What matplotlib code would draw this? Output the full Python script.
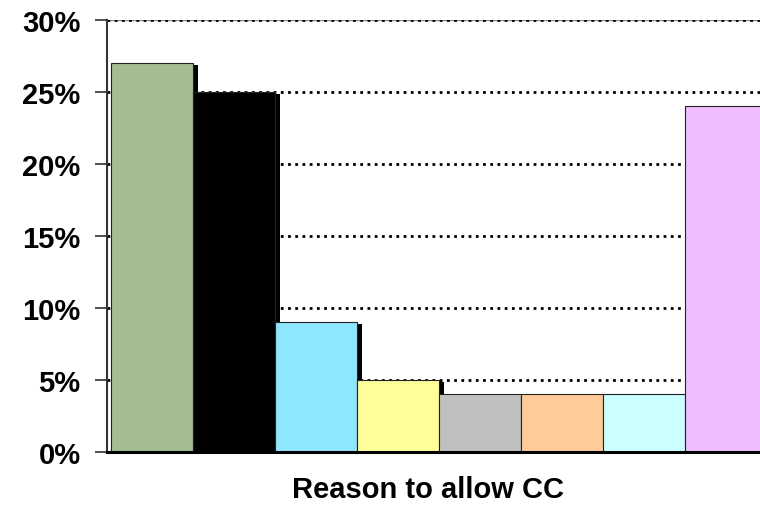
import matplotlib.pyplot as plt
import matplotlib.patheffects as pe
import numpy as np

plt.rcParams['font.family'] = ['Liberation Sans', 'DejaVu Sans']
plt.rcParams['font.weight'] = 'bold'

# share of answers per reason (%)
values = [27, 25, 9, 5, 4, 4, 4, 24]
colors = ['#A3BD90', '#000000', '#8FE6FF', '#FFFF99',
          '#C0C0C0', '#FFCC99', '#CCFFFF', '#EEBDFF']
yticks = [0, 5, 10, 15, 20, 25, 30]
xlabel = 'Reason to allow CC'

fig = plt.figure(figsize=(7.6, 5.06), dpi=100)
ax = fig.add_axes([107 / 760, 53 / 506, 1 - 107 / 760, 432 / 506])

x = np.arange(len(values))
shadow = [pe.SimplePatchShadow(offset=(3.6, -1.4), shadow_rgbFace='black', alpha=1.0),
          pe.Normal()]
for xi, v, c in zip(x, values, colors):
    b = ax.bar(xi, v, width=1.0, color=c, edgecolor='#222222', linewidth=0.8, zorder=3)
    for p in b:
        p.set_path_effects(shadow)

for t in yticks[1:]:
    ax.axhline(t, color='black', linestyle=(0, (1.0, 1.6)), linewidth=2.0, zorder=1)
ax.axhline(30, color='#888888', linewidth=1.0, zorder=0.5)

ax.set_xlim(-0.55, -0.5 + (760 - 111) / 82)
ax.set_ylim(0, 30)
ax.set_xticks([])
ax.set_yticks(yticks)
ax.set_yticklabels([f'{t}%' for t in yticks], fontsize=21, fontweight='bold')
ax.tick_params(axis='y', direction='out', length=9, width=1.2, pad=10, color='#333333')

for s in ['top', 'right']:
    ax.spines[s].set_visible(False)
ax.spines['left'].set_color('#333333')
ax.spines['left'].set_linewidth(1.5)
ax.spines['bottom'].set_linewidth(2.2)
ax.spines['bottom'].set_zorder(4)

fig.text(428 / 760, 2 / 506, xlabel, ha='center', va='bottom',
         fontsize=21, fontweight='bold')

fig.savefig('out.png', dpi=100)
